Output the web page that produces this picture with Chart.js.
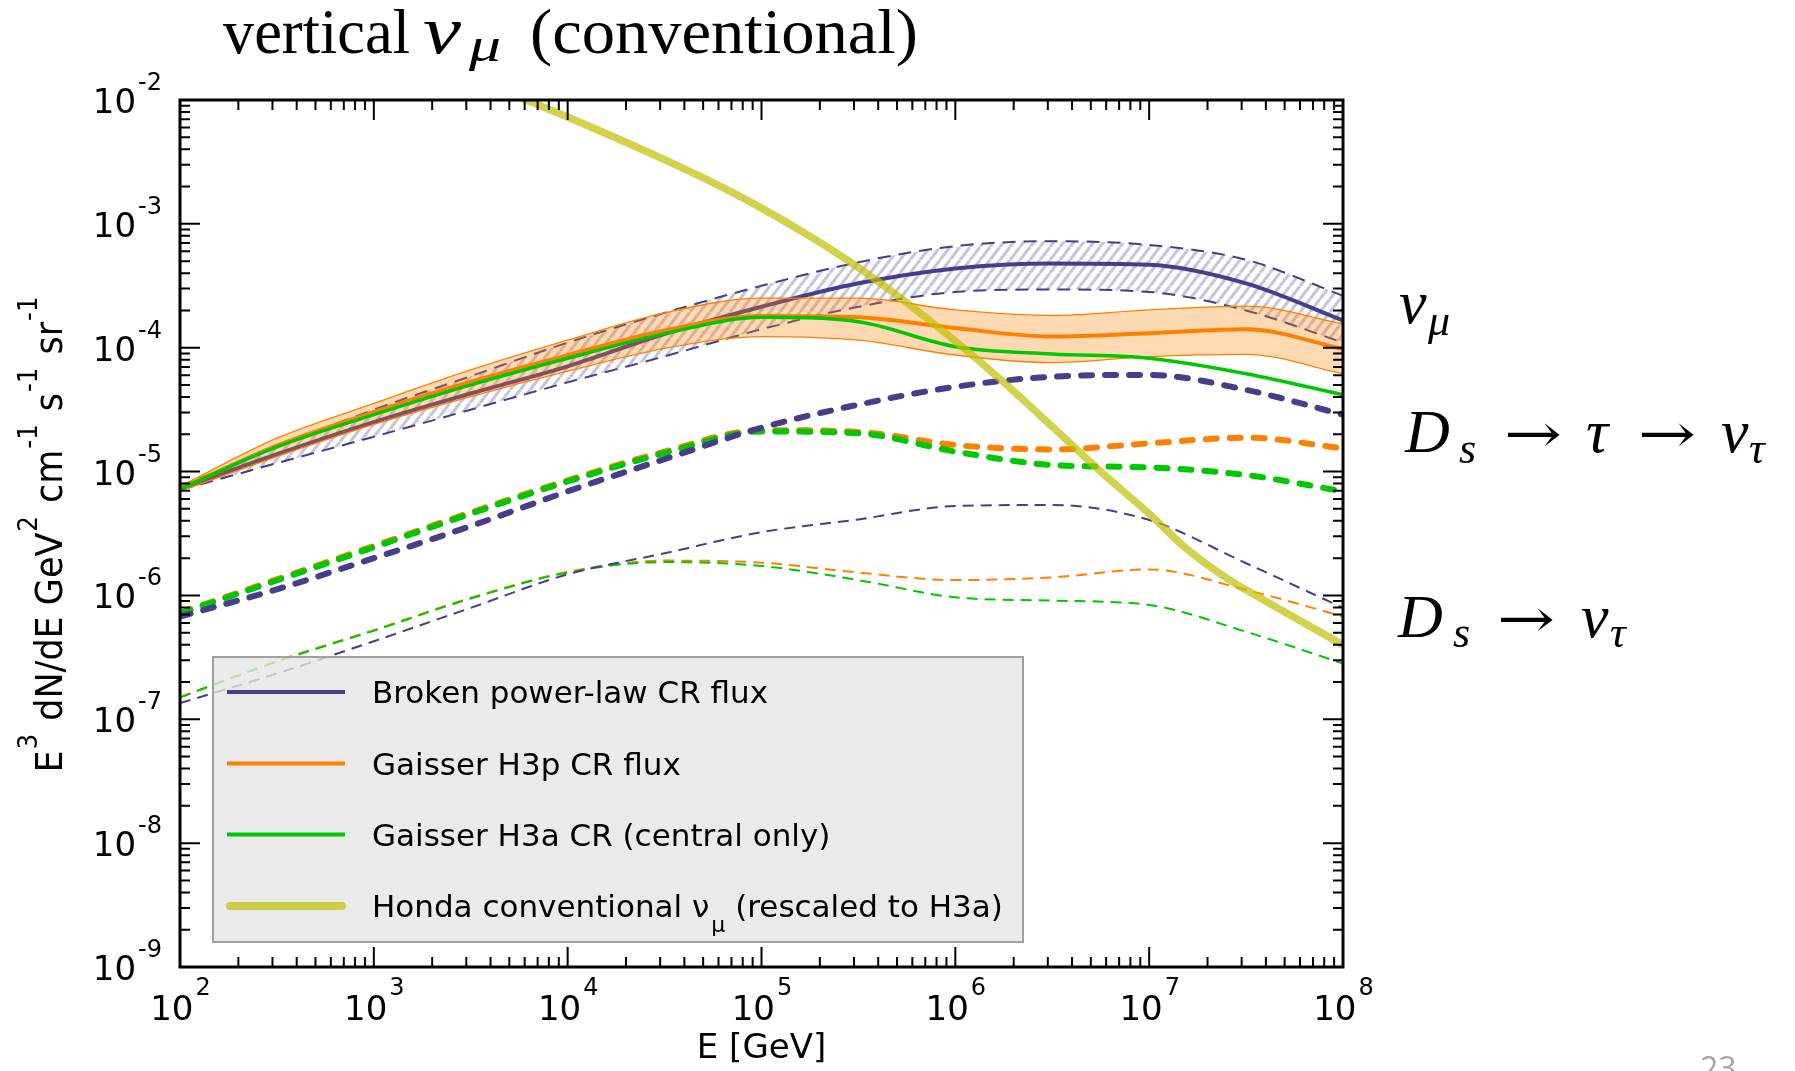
<!DOCTYPE html>
<html>
<head>
<meta charset="utf-8">
<title>vertical nu_mu (conventional)</title>
<script src="https://cdn.jsdelivr.net/npm/chart.js@4.4.1/dist/chart.umd.min.js"></script>
<style>
  html, body { margin: 0; padding: 0; background: #fff; }
  #flux { display: block; }
</style>
</head>
<body>
<canvas id="flux" width="1795" height="1071"></canvas>
<script>
// neutrino energy grid [GeV], half-decade steps
const energies = [1e2, 3.16e2, 1e3, 3.16e3, 1e4, 3.16e4, 1e5, 3.16e5, 1e6, 3.16e6, 1e7, 3.16e7, 1e8];

// prompt nu_mu, broken power-law CR flux (central + band)
const bplCentral = [7.24e-6, 1.38e-5, 2.51e-5, 4.27e-5, 7.08e-5, 1.29e-4, 2.14e-4, 3.31e-4, 4.37e-4, 4.79e-4, 4.68e-4, 3.31e-4, 1.66e-4];
const bplUpper   = [7.59e-6, 1.58e-5, 3.16e-5, 5.89e-5, 1.10e-4, 1.91e-4, 3.16e-4, 4.90e-4, 6.61e-4, 7.24e-4, 6.76e-4, 5.13e-4, 2.63e-4];
const bplLower   = [7.08e-6, 1.17e-5, 1.91e-5, 3.16e-5, 5.25e-5, 8.51e-5, 1.41e-4, 2.14e-4, 2.82e-4, 2.95e-4, 2.82e-4, 2.00e-4, 1.10e-4];

// prompt nu_mu, Gaisser H3p (central + band) and H3a (central only)
const h3pCentral = [7.24e-6, 1.62e-5, 3.02e-5, 5.31e-5, 8.71e-5, 1.38e-4, 1.80e-4, 1.76e-4, 1.44e-4, 1.23e-4, 1.31e-4, 1.41e-4, 9.77e-5];
const h3pUpper   = [7.59e-6, 1.86e-5, 3.55e-5, 6.61e-5, 1.15e-4, 1.91e-4, 2.51e-4, 2.51e-4, 2.02e-4, 1.82e-4, 2.02e-4, 2.17e-4, 1.56e-4];
const h3pLower   = [6.92e-6, 1.32e-5, 2.40e-5, 4.03e-5, 6.46e-5, 9.89e-5, 1.23e-4, 1.15e-4, 8.73e-5, 7.57e-5, 8.47e-5, 8.85e-5, 6.17e-5];
const h3aCentral = [7.24e-6, 1.58e-5, 2.88e-5, 5.01e-5, 8.22e-5, 1.30e-4, 1.76e-4, 1.62e-4, 1.02e-4, 8.91e-5, 8.22e-5, 6.17e-5, 4.17e-5];

// Ds -> tau -> nu_tau
const tauBpl = [6.76e-7, 1.12e-6, 2.00e-6, 3.63e-6, 6.92e-6, 1.26e-5, 2.26e-5, 3.47e-5, 4.84e-5, 5.83e-5, 6.03e-5, 4.57e-5, 2.88e-5];
const tauH3p = [7.24e-7, 1.35e-6, 2.51e-6, 4.68e-6, 8.51e-6, 1.45e-5, 2.16e-5, 2.09e-5, 1.64e-5, 1.51e-5, 1.69e-5, 1.88e-5, 1.54e-5];
const tauH3a = [7.16e-7, 1.32e-6, 2.45e-6, 4.57e-6, 8.32e-6, 1.41e-5, 2.11e-5, 2.04e-5, 1.45e-5, 1.13e-5, 1.08e-5, 9.38e-6, 6.92e-6];

// Ds -> nu_tau
const dsBpl = [1.35e-7, 2.34e-7, 4.27e-7, 7.94e-7, 1.48e-6, 2.19e-6, 3.24e-6, 4.11e-6, 5.27e-6, 5.37e-6, 4.06e-6, 1.82e-6, 7.94e-7];
const dsH3p = [1.51e-7, 2.95e-7, 5.25e-7, 9.55e-7, 1.55e-6, 1.91e-6, 1.84e-6, 1.53e-6, 1.33e-6, 1.40e-6, 1.62e-6, 1.11e-6, 6.76e-7];
const dsH3a = [1.50e-7, 2.92e-7, 5.19e-7, 9.44e-7, 1.53e-6, 1.86e-6, 1.73e-6, 1.33e-6, 9.66e-7, 9.08e-7, 8.38e-7, 5.09e-7, 2.82e-7];

// Honda conventional nu_mu, rescaled to H3a
const hondaEnergies = [5.01e3, 1e4, 1.78e4, 3.16e4, 5.62e4, 1e5, 1.78e5, 3.16e5, 5.62e5, 1e6, 1.78e6, 3.16e6, 5.62e6, 1e7, 1.58e7, 2.51e7, 3.98e7, 1e8];
const hondaFlux     = [1.14e-2, 7.28e-3, 4.94e-3, 3.30e-3, 2.15e-3, 1.34e-3, 7.92e-4, 4.44e-4, 2.31e-4, 1.13e-4, 5.24e-5, 2.31e-5, 1.00e-5, 4.56e-6, 2.34e-6, 1.38e-6, 9.02e-7, 3.98e-7];

// axis decades (tick labels are 10^exp)
const xTickExps = [2, 3, 4, 5, 6, 7, 8];
const yTickExps = [-9, -8, -7, -6, -5, -4, -3, -2];

const legendLabels = [
  'Broken power-law CR flux',
  'Gaisser H3p CR flux',
  'Gaisser H3a CR (central only)',
  'Honda conventional ν'
];

const BLUE = '#483d8b';
const ORANGE = '#ff8000';
const GREEN = '#00c800';
const HONDA = 'rgba(191,191,0,0.7)';

// diagonal hatch for the broken power-law band
function hatchPattern() {
  const w = 10, h = 13;
  const c = document.createElement('canvas');
  c.width = w; c.height = h;
  const g = c.getContext('2d');
  g.strokeStyle = 'rgba(72,61,139,0.3)';
  g.lineWidth = 3.2;
  g.beginPath();
  for (let k = -1; k <= 1; k++) {
    g.moveTo(k * w, h);
    g.lineTo(k * w + w, 0);
  }
  g.stroke();
  return g.createPattern(c, 'repeat');
}

const pts = (xs, ys) => xs.map((x, i) => ({ x, y: ys[i] }));

function series(label, xs, ys, style, order) {
  return Object.assign({
    label, order,
    data: pts(xs, ys),
    pointRadius: 0,
    fill: false,
    cubicInterpolationMode: 'monotone',
    clip: 0,
    borderCapStyle: 'butt'
  }, style);
}

const bandEdge = { borderWidth: 2, borderDash: [13, 8] };
const thin = { borderWidth: 2, borderDash: [11, 7] };
const thick = { borderWidth: 6, borderDash: [11, 13], borderCapStyle: 'round' };

const datasets = [
  series('bpl upper', energies, bplUpper, Object.assign({ borderColor: BLUE, fill: { target: 1 }, backgroundColor: hatchPattern() }, bandEdge), 20),
  series('bpl lower', energies, bplLower, Object.assign({ borderColor: BLUE }, bandEdge), 19),
  series('bpl central', energies, bplCentral, { borderColor: BLUE, borderWidth: 4 }, 18),
  series('Ds nu_tau H3p', energies, dsH3p, Object.assign({ borderColor: ORANGE }, thin), 17),
  series('Ds nu_tau H3a', energies, dsH3a, Object.assign({ borderColor: GREEN }, thin), 16),
  series('Ds nu_tau bpl', energies, dsBpl, Object.assign({ borderColor: BLUE }, thin), 15),
  series('tau nu_tau H3p', energies, tauH3p, Object.assign({ borderColor: ORANGE }, thick), 14),
  series('tau nu_tau H3a', energies, tauH3a, Object.assign({ borderColor: GREEN }, thick), 13),
  series('tau nu_tau bpl', energies, tauBpl, Object.assign({ borderColor: BLUE }, thick), 12),
  series('h3p upper', energies, h3pUpper, { borderColor: ORANGE, borderWidth: 1.3, fill: { target: 10 }, backgroundColor: 'rgba(255,128,0,0.3)' }, 11),
  series('h3p lower', energies, h3pLower, { borderColor: ORANGE, borderWidth: 1.3 }, 10),
  series('h3p central', energies, h3pCentral, { borderColor: ORANGE, borderWidth: 4 }, 9),
  series('h3a central', energies, h3aCentral, { borderColor: GREEN, borderWidth: 3.5 }, 8),
  series('honda', hondaEnergies, hondaFlux, { borderColor: HONDA, borderWidth: 7.5 }, 7)
];

// legend samples reuse the dataset styles
const legendStyles = [
  { color: BLUE, width: 4, cap: 'butt' },
  { color: ORANGE, width: 4, cap: 'butt' },
  { color: GREEN, width: 4, cap: 'butt' },
  { color: HONDA, width: 8, cap: 'round' }
];

const SANS = '"DejaVu Sans", sans-serif';
const SERIF = '"Liberation Serif", "DejaVu Serif", serif';

// draw text squeezed or stretched to a given width
function fitText(ctx, text, x, y, width) {
  const w = ctx.measureText(text).width;
  ctx.save();
  ctx.translate(x, y);
  ctx.scale(width / w, 1);
  ctx.fillText(text, 0, 0);
  ctx.restore();
}

function drawPower(ctx, exp, px, py, axis) {
  const base = '10', sup = String(exp);
  ctx.font = '34px ' + SANS;
  const wb = ctx.measureText(base).width;
  ctx.font = '24px ' + SANS;
  const ws = ctx.measureText(sup).width;
  ctx.textAlign = 'left';
  ctx.textBaseline = 'alphabetic';
  let x0, yb, ys;
  if (axis === 'x') {
    x0 = px - (wb + ws + 1) / 2;
    yb = 1020; ys = 995;
  } else {
    x0 = 163 - ws - wb - 3;
    yb = py + 13; ys = py - 10;
  }
  ctx.font = '34px ' + SANS;
  ctx.fillText(base, x0, yb);
  ctx.font = '24px ' + SANS;
  ctx.fillText(sup, x0 + wb + 2, ys);
}

function drawFrame(chart) {
  const { ctx, chartArea: a, scales: { x, y } } = chart;
  ctx.save();
  ctx.strokeStyle = '#000';
  ctx.lineWidth = 2;
  ctx.beginPath();
  for (const e of xTickExps) {
    for (let m = 1; m <= 9; m++) {
      const v = m * Math.pow(10, e);
      if (v > x.max * 1.0001) break;
      const px = x.getPixelForValue(v);
      const len = m === 1 ? 20 : 10;
      ctx.moveTo(px, a.bottom); ctx.lineTo(px, a.bottom - len);
      ctx.moveTo(px, a.top); ctx.lineTo(px, a.top + len);
    }
  }
  for (const e of yTickExps) {
    for (let m = 1; m <= 9; m++) {
      const v = m * Math.pow(10, e);
      if (v > y.max * 1.0001) break;
      const py = y.getPixelForValue(v);
      const len = m === 1 ? 20 : 10;
      ctx.moveTo(a.left, py); ctx.lineTo(a.left + len, py);
      ctx.moveTo(a.right, py); ctx.lineTo(a.right - len, py);
    }
  }
  ctx.stroke();
  ctx.lineWidth = 3;
  ctx.strokeRect(a.left, a.top, a.right - a.left, a.bottom - a.top);

  ctx.fillStyle = '#000';
  for (const e of xTickExps) drawPower(ctx, e, x.getPixelForValue(Math.pow(10, e)), 0, 'x');
  for (const e of yTickExps) drawPower(ctx, e, 0, y.getPixelForValue(Math.pow(10, e)), 'y');

  // x title
  ctx.font = '34px ' + SANS;
  ctx.textAlign = 'center';
  ctx.textBaseline = 'alphabetic';
  ctx.fillText('E [GeV]', (a.left + a.right) / 2, 1058);

  // y title, rotated, with superscripts
  const parts = [
    ['E', 0], ['3', 1], [' dN/dE GeV', 0], ['2', 1], [' cm', 0], ['-1', 1],
    [' s', 0], ['-1', 1], [' sr', 0], ['-1', 1]
  ];
  const fontFor = s => (s ? '26px ' : '37px ') + SANS;
  let total = 0;
  for (const [t, s] of parts) { ctx.font = fontFor(s); total += ctx.measureText(t).width + (s ? 3 : 0); }
  ctx.save();
  ctx.translate(62, (a.top + a.bottom) / 2);
  ctx.rotate(-Math.PI / 2);
  ctx.scale(478 / total, 1);
  ctx.textAlign = 'left';
  let cx = -total / 2;
  for (const [t, s] of parts) {
    ctx.font = fontFor(s);
    ctx.fillText(t, cx + (s ? 1 : 0), s ? -25 : 0);
    cx += ctx.measureText(t).width + (s ? 3 : 0);
  }
  ctx.restore();
  ctx.restore();
}

function drawLegend(chart) {
  const { ctx } = chart;
  ctx.save();
  ctx.fillStyle = 'rgba(229,229,229,0.8)';
  ctx.fillRect(213, 657, 810, 285);
  ctx.strokeStyle = '#a0a0a0';
  ctx.lineWidth = 2;
  ctx.strokeRect(213, 657, 810, 285);
  const rows = [692, 763.5, 834.5, 906];
  rows.forEach((ry, i) => {
    const st = legendStyles[i];
    ctx.strokeStyle = st.color;
    ctx.lineWidth = st.width;
    ctx.lineCap = st.cap;
    ctx.beginPath();
    ctx.moveTo(st.cap === 'round' ? 230 : 227, ry);
    ctx.lineTo(st.cap === 'round' ? 342 : 345, ry);
    ctx.stroke();
    ctx.fillStyle = '#000';
    ctx.font = '31px ' + SANS;
    ctx.textAlign = 'left';
    ctx.textBaseline = 'alphabetic';
    ctx.fillText(legendLabels[i], 372, ry + 11);
    if (i === 3) {
      let lx = 372 + ctx.measureText(legendLabels[i]).width + 2;
      ctx.font = '22px ' + SANS;
      ctx.fillText('μ', lx, ry + 26);
      lx += ctx.measureText('μ').width;
      ctx.font = '31px ' + SANS;
      ctx.fillText(' (rescaled to H3a)', lx, ry + 11);
    }
  });
  ctx.restore();
}

function drawLabels(chart) {
  const { ctx } = chart;
  ctx.save();
  ctx.fillStyle = '#000';
  ctx.textAlign = 'left';
  ctx.textBaseline = 'alphabetic';

  // heading
  ctx.font = '63px ' + SERIF;
  fitText(ctx, 'vertical', 223, 53, 187);
  ctx.font = 'italic 68px ' + SERIF;
  fitText(ctx, 'ν', 423, 53, 38);
  ctx.font = 'italic 48px ' + SERIF;
  fitText(ctx, 'μ', 469, 61, 32);
  ctx.font = '63px ' + SERIF;
  fitText(ctx, '(conventional)', 530, 53, 388);

  // curve family tags on the right
  ctx.font = 'italic 62px ' + SERIF;
  ctx.fillText('ν', 1399, 323);
  ctx.font = 'italic 44px ' + SERIF;
  ctx.fillText('μ', 1428, 335);

  const arrow = (x, yb) => {
    ctx.font = '54px "DejaVu Serif", serif';
    fitText(ctx, '→', x, yb, 58);
  };

  ctx.font = 'italic 62px ' + SERIF;
  ctx.fillText('D', 1405, 452);
  ctx.font = 'italic 44px ' + SERIF;
  ctx.fillText('s', 1459, 463);
  arrow(1504, 452);
  ctx.font = 'italic 62px ' + SERIF;
  ctx.fillText('τ', 1586, 452);
  arrow(1638, 452);
  ctx.font = 'italic 62px ' + SERIF;
  ctx.fillText('ν', 1721, 452);
  ctx.font = 'italic 44px ' + SERIF;
  ctx.fillText('τ', 1749, 463);

  ctx.font = 'italic 62px ' + SERIF;
  ctx.fillText('D', 1398, 637);
  ctx.font = 'italic 44px ' + SERIF;
  ctx.fillText('s', 1453, 647);
  arrow(1497, 637);
  ctx.font = 'italic 62px ' + SERIF;
  ctx.fillText('ν', 1581, 637);
  ctx.font = 'italic 44px ' + SERIF;
  ctx.fillText('τ', 1610, 647);

  // slide number
  ctx.fillStyle = '#a6a6a6';
  ctx.font = '32px "Open Sans", sans-serif';
  ctx.fillText('23', 1700, 1080);
  ctx.restore();
}

const decorations = {
  id: 'decorations',
  afterDatasetsDraw(chart) { drawLegend(chart); },
  afterDraw(chart) { drawFrame(chart); drawLabels(chart); }
};

new Chart(document.getElementById('flux'), {
  type: 'line',
  data: { datasets },
  options: {
    responsive: false,
    animation: false,
    events: [],
    layout: { padding: { left: 180, top: 100, right: 452, bottom: 104 } },
    scales: {
      x: { type: 'logarithmic', min: 1e2, max: 1e8, display: false },
      y: { type: 'logarithmic', min: 1e-9, max: 1e-2, display: false }
    },
    plugins: {
      legend: { display: false },
      tooltip: { enabled: false },
      filler: { propagate: false }
    }
  },
  plugins: [decorations]
});
</script>
</body>
</html>
